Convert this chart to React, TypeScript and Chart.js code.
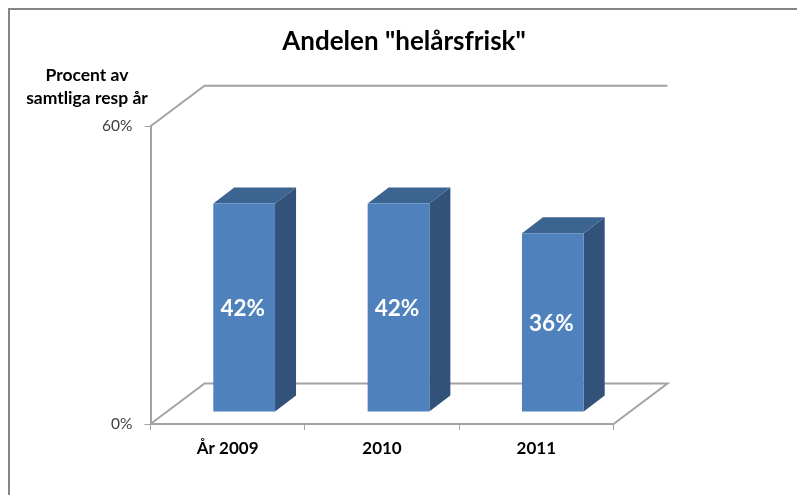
import React, { useEffect, useRef } from "react";
import { Chart, registerables } from "chart.js";

Chart.register(...registerables);

const categories = ["År 2009", "2010", "2011"];
const values = [42, 42, 36];
const yMin = 0;
const yMax = 60;
const titleText = 'Andelen "helårsfrisk"';
const axisTitleLines = ["Procent av", "samtliga resp år"];

const FONT = "Lato";
const WALL = "#a3a3a3";
const FRONT = "#4f81bd";
const SIDE = "#32527a";
const TOP = "#3c6490";
const FLOOR_DX = 54;
const FLOOR_DY = 40.5;
const BAR_DX = 16.5;
const BAR_DY = 12;
const DEPTH_DX = 21;
const DEPTH_DY = 16;

const frame3d = {
  id: "frame3d",
  beforeDraw(chart: any) {
    const { ctx, width, height } = chart;
    ctx.save();
    ctx.fillStyle = "#ffffff";
    ctx.fillRect(0, 0, width, height);
    ctx.strokeStyle = "#868686";
    ctx.lineWidth = 2;
    ctx.beginPath();
    ctx.moveTo(9, height);
    ctx.lineTo(9, 9);
    ctx.lineTo(width, 9);
    ctx.stroke();
    ctx.fillStyle = "#000000";
    ctx.font = `bold 17.5px ${FONT}`;
    ctx.textAlign = "center";
    ctx.textBaseline = "middle";
    ctx.fillText(axisTitleLines[0], 87, 75);
    ctx.fillText(axisTitleLines[1], 87, 98);
    ctx.restore();
  },
  beforeDatasetsDraw(chart: any) {
    const { ctx, chartArea: a } = chart;
    ctx.save();
    ctx.strokeStyle = WALL;
    ctx.lineWidth = 2;
    ctx.beginPath();
    ctx.moveTo(a.left, a.top);
    ctx.lineTo(a.left + FLOOR_DX, a.top - FLOOR_DY);
    ctx.lineTo(a.right + FLOOR_DX, a.top - FLOOR_DY);
    ctx.moveTo(a.left, a.bottom);
    ctx.lineTo(a.left + FLOOR_DX, a.bottom - FLOOR_DY);
    ctx.lineTo(a.right + FLOOR_DX, a.bottom - FLOOR_DY);
    ctx.lineTo(a.right, a.bottom);
    ctx.stroke();
    ctx.restore();
  },
  beforeDatasetDraw(chart: any, args: any) {
    const { ctx } = chart;
    ctx.save();
    ctx.translate(BAR_DX, -BAR_DY);
    for (const el of chart.getDatasetMeta(args.index).data) {
      const l = el.x - el.width / 2;
      const r = el.x + el.width / 2;
      const t = el.y;
      const b = el.base;
      ctx.fillStyle = SIDE;
      ctx.beginPath();
      ctx.moveTo(r, t);
      ctx.lineTo(r + DEPTH_DX, t - DEPTH_DY);
      ctx.lineTo(r + DEPTH_DX, b - DEPTH_DY);
      ctx.lineTo(r, b);
      ctx.closePath();
      ctx.fill();
      ctx.fillStyle = TOP;
      ctx.beginPath();
      ctx.moveTo(l, t);
      ctx.lineTo(l + DEPTH_DX, t - DEPTH_DY);
      ctx.lineTo(r + DEPTH_DX, t - DEPTH_DY);
      ctx.lineTo(r, t);
      ctx.closePath();
      ctx.fill();
    }
  },
  afterDatasetDraw(chart: any, args: any) {
    const { ctx } = chart;
    const ds = chart.data.datasets[args.index];
    ctx.fillStyle = "#ffffff";
    ctx.font = `bold 22.5px ${FONT}`;
    ctx.textAlign = "center";
    ctx.textBaseline = "middle";
    chart.getDatasetMeta(args.index).data.forEach((el: any, i: number) => {
      ctx.fillText(`${ds.data[i]}%`, el.x - 1.5, (el.y + el.base) / 2 + 1);
    });
    ctx.restore();
  },
};

export default function App() {
  const ref = useRef<HTMLCanvasElement | null>(null);
  useEffect(() => {
    if (!ref.current) return;
    const chart = new Chart(ref.current, {
      type: "bar",
      data: {
        labels: categories,
        datasets: [
          {
            data: values,
            backgroundColor: FRONT,
            borderWidth: 0,
            barPercentage: 0.8,
            categoryPercentage: 0.5,
            clip: false,
          } as any,
        ],
      },
      options: {
        responsive: false,
        animation: false,
        layout: { padding: { left: 11, top: 0, right: 0, bottom: 0 } },
        plugins: {
          legend: { display: false },
          tooltip: { enabled: false },
          title: {
            display: true,
            text: titleText,
            color: "#000000",
            font: { family: FONT, size: 26, weight: "bold" },
            padding: { top: 26, bottom: 69 },
          },
        },
        scales: {
          x: {
            grid: { drawOnChartArea: false, drawTicks: true, tickLength: 6, color: WALL, offset: true },
            border: { color: WALL, width: 2 },
            ticks: { color: "#000000", font: { family: FONT, size: 17, weight: "bold" }, padding: 8, maxRotation: 0 },
            afterFit: (s: any) => { s.height = 71; },
          },
          y: {
            min: yMin,
            max: yMax,
            grid: { drawOnChartArea: false, drawTicks: true, tickLength: 6, color: WALL },
            border: { color: WALL, width: 2 },
            ticks: {
              stepSize: yMax - yMin,
              color: "#404040",
              font: { family: FONT, size: 15.5 },
              padding: 12,
              callback: (v: any) => `${v}%`,
            },
            afterFit: (s: any) => { s.width = 139.5; },
          },
          spacer: {
            position: "right",
            display: true,
            grid: { display: false },
            border: { display: false },
            ticks: { display: false },
            afterFit: (s: any) => { s.width = 183.5; },
          },
        },
      } as any,
      plugins: [frame3d],
    });
    return () => chart.destroy();
  }, []);
  return (
    <div style={{ position: "fixed", left: 0, top: 0, width: 797, height: 495 }}>
      <canvas ref={ref} width={797} height={495} style={{ display: "block" }} />
    </div>
  );
}
